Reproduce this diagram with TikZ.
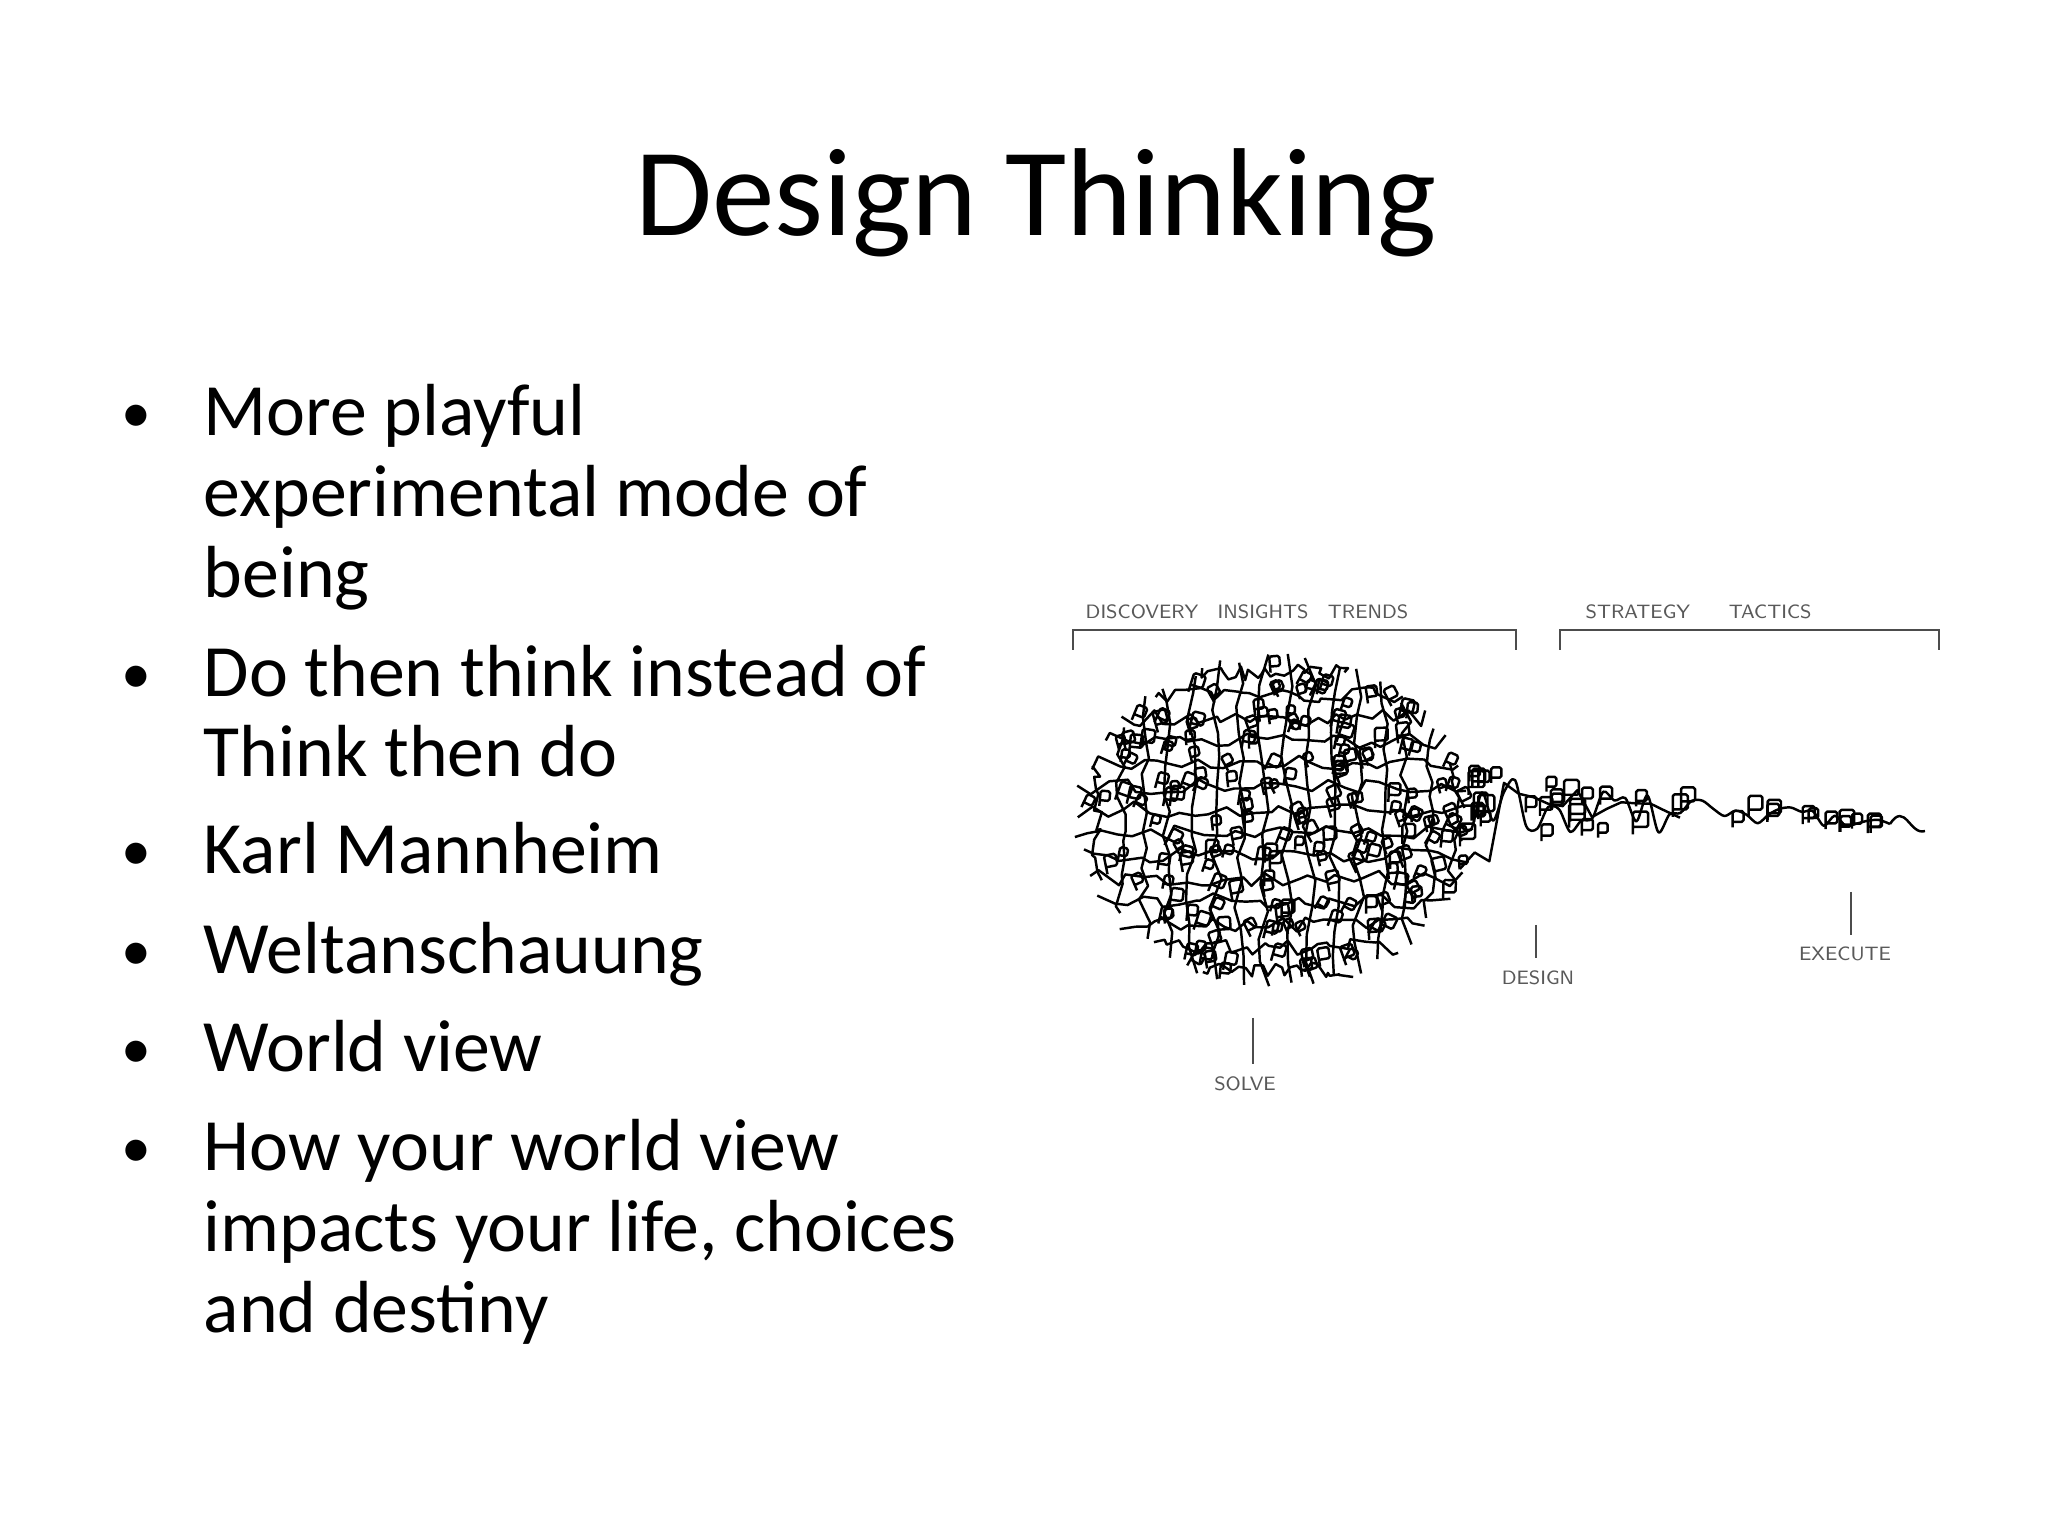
\documentclass[tikz,border=0pt]{standalone}
\usepackage{fontspec}
\setmainfont{Carlito}
\begin{document}
\begin{tikzpicture}[x=1cm,y=1cm,
  bul/.style={anchor=base west,font=\fontsize{21}{25}\selectfont,inner sep=0},
  dot/.style={anchor=base,font=\fontsize{17}{20}\selectfont,inner sep=0},
  lab/.style={font=\sffamily\fontsize{5.5}{6}\selectfont,text=black!65,inner sep=0},
  scr/.style={line width=0.7pt,line join=round}]
\useasboundingbox[fill=white] (0,0) rectangle (20.48,15.36);
\node[anchor=base,font=\fontsize{35.6}{40}\selectfont,inner sep=0] (title) at (10.36,13.00) {Design Thinking};
% bullets
\foreach \y/\t [count=\n] in {11.00/More playful,8.39/Do then think instead of,6.62/Karl Mannheim,5.62/Weltanschauung,4.64/World view,3.65/How your world view}{
  \node[dot] (d\n) at (1.36,\y+0.03) {•};
  \node[bul] (b\n) at (2.03,\y) {\t};}
\node[bul] (b1b) at (2.03,10.19) {experimental mode of};
\node[bul] (b1c) at (2.03,9.38) {being};
\node[bul] (b2b) at (2.03,7.59) {Think then do};
\node[bul] (b6b) at (2.03,2.84) {impacts your life, choices};
\node[bul] (b6c) at (2.03,2.03) {and destiny};
% brackets
\draw[black!70,line width=0.6pt] (10.73,8.86) -- (10.73,9.06) -- (15.16,9.06) -- (15.16,8.86);
\draw[black!70,line width=0.6pt] (15.60,8.86) -- (15.60,9.06) -- (19.39,9.06) -- (19.39,8.86);
\node[lab,anchor=base west] (l1) at (10.85,9.17) {DISCOVERY\quad INSIGHTS\quad TRENDS};
\node[lab,anchor=base west] (l2) at (15.85,9.17) {STRATEGY\qquad TACTICS};
% markers
\coordinate (s1) at (12.53,5.18); \coordinate (s2) at (12.53,4.72);
\draw[black!70,line width=0.6pt] (s1) -- (s2);
\node[lab,anchor=north] (solve) at (12.45,4.60) {SOLVE};
\coordinate (g1) at (15.36,6.11); \coordinate (g2) at (15.36,5.78);
\draw[black!70,line width=0.6pt] (g1) -- (g2);
\node[lab,anchor=north] (design) at (15.38,5.66) {DESIGN};
\coordinate (e1) at (18.51,6.44); \coordinate (e2) at (18.51,6.01);
\draw[black!70,line width=0.6pt] (e1) -- (e2);
\node[lab,anchor=north] (exec) at (18.45,5.90) {EXECUTE};
% scribble blob
\pgfmathsetseed{11}
\def\cx{12.75}\def\cy{7.15}\def\rx{2.0}\def\ry{1.65}
\foreach \k in {0,...,13}{
  \pgfmathsetmacro\t{(\k+0.5)/7-1}
  \pgfmathsetmacro\yy{\cy+\ry*\t*0.97}
  \pgfmathsetmacro\hw{\rx*sqrt(1-\t*\t)}
  \draw[scr] plot[sharp plot,samples=28,domain=-1:1] ({\cx+\hw*\x+0.05*rand},{\yy+0.08*rand});
}
\foreach \k in {0,...,15}{
  \pgfmathsetmacro\t{(\k+0.5)/8-1}
  \pgfmathsetmacro\xx{\cx+\rx*\t*0.95}
  \pgfmathsetmacro\hh{\ry*sqrt(1-\t*\t)}
  \draw[scr] plot[sharp plot,samples=14,domain=-1:1] ({\xx+0.06*rand},{\cy+\hh*\x+0.05*rand});
}
\foreach \i in {1,...,190}{
  \pgfmathsetmacro\r{sqrt(rnd)*0.97}
  \pgfmathsetmacro\a{360*rnd}
  \pgfmathsetmacro\s{0.08+0.05*rnd}
  \pgfmathsetmacro\rot{30*rand}
  \draw[scr,rounded corners=0.5pt,rotate around={\rot:({\cx+\rx*\r*cos(\a)},{\cy+\ry*\r*sin(\a)})}] ({\cx+\rx*\r*cos(\a)},{\cy+\ry*\r*sin(\a)}) -- ++(\s,0) -- ++(0,\s) -- ++(-\s,0) -- ++(0,-1.6*\s);
}
% tail
\draw[scr] plot[smooth,tension=0.5,samples=40,domain=14.6:18.9] (\x,{7.35-0.05*(\x-14.6)+(0.35*(18.9-\x)/4.3+0.03)*rand});
\draw[scr] plot[sharp plot,samples=16,domain=14.6:16.8] (\x,{7.2+(0.6*(16.8-\x)/2.2+0.05)*rand});
\draw[scr] (18.9,7.12) .. controls (19.05,7.35) and (19.1,7.0) .. (19.25,7.05);
\foreach \i in {1,...,40}{
  \pgfmathsetmacro\xx{14.6+4.2*rnd^1.5}
  \pgfmathsetmacro\yy{7.3-0.05*(\xx-14.6)+0.35*rand*(18.9-\xx)/4.3}
  \pgfmathsetmacro\s{0.09+0.07*rnd}
  \draw[scr,rounded corners=0.5pt] (\xx,\yy) -- ++(\s,0) -- ++(0,\s) -- ++(-\s,0) -- ++(0,-1.5*\s);
}
\end{tikzpicture}
\end{document}
